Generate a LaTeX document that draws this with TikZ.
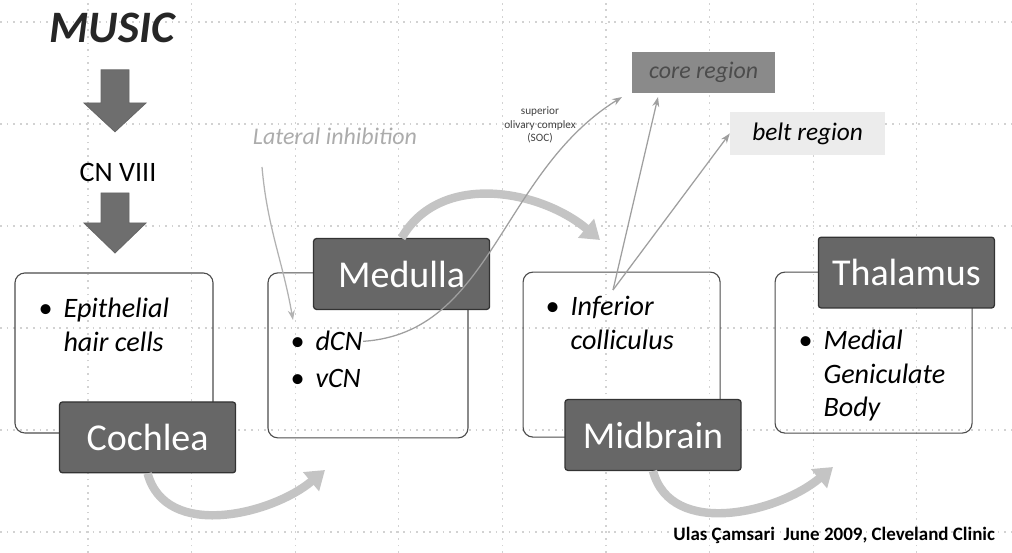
\documentclass[tikz,border=0pt]{standalone}
\usepackage{fontspec}
\setmainfont{Carlito}
\usepackage{tkz-euclide}
\usetikzlibrary{arrows.meta}
\definecolor{arrowgray}{HTML}{6E6E6E}
\definecolor{labelgray}{HTML}{676767}
\definecolor{coregray}{HTML}{8A8A8A}
\definecolor{bandgray}{HTML}{C4C4C4}

\begin{document}
\begin{tikzpicture}[
    gridline/.style={gray!35, line width=0.8pt, dash pattern=on 1.2pt off 3.5pt},
    group/.style={draw=black!70, line width=0.8pt, rounded corners=7pt},
    labelbox/.style={draw=black!80, fill=labelgray, text=white, rounded corners=2pt, line width=0.9pt,
        font=\fontsize{27}{30}\selectfont, minimum width=4.4cm, minimum height=1.77cm, inner sep=0pt},
    listtext/.style={font=\fontsize{20}{23.5}\selectfont\itshape, inner sep=0pt},
    bigarrow/.style={fill=arrowgray, draw=black!60, line width=0.6pt, line join=miter},
    band/.style={draw=bandgray, line width=6pt, -{Triangle[length=13pt,width=17pt]}},
    link/.style={draw=gray!75, line width=0.9pt, -{Stealth[length=7pt,width=5pt]}}
]
    \useasboundingbox (0,0) rectangle (25.3,13.825);
    % background grid
    \foreach \x in {2.2,4.79,...,23}
        \draw[gridline] (\x,0) -- (\x,13.825);
    \foreach \y in {0.525,3.075,...,13.4}
        \draw[gridline] (0,\y) -- (25.3,\y);

    \tkzDefPoints{8.125/2.075/CA,20.825/2.15/MA,15.0/7.825/IA,6.55/9.65/LS,7.325/5.825/LE,
        15.325/6.575/IC,15.55/11.4/CW,16.45/11.4/CS}

    % input
    \node[font=\fontsize{32}{36}\selectfont\bfseries\itshape, text=black!85] (music) at (2.8,13.13) {MUSIC};
    \node[font=\fontsize{20}{24}\selectfont] (cn) at (2.95,9.525) {CN VIII};
    \foreach \top/\head/\tip in {12.08/11.25/10.53, 9.0/8.25/7.5}
        \draw[bigarrow] (2.525,\top) -- (3.225,\top) -- (3.225,\head) -- (3.65,\head)
            -- (2.875,\tip) -- (2.1,\head) -- (2.525,\head) -- cycle;

    % stations
    \node[group, minimum width=4.95cm, minimum height=4.0cm] (cochleabox) at (2.85,5.0) {};
    \node[group, minimum width=5.0cm, minimum height=4.125cm] (medullabox) at (9.2,4.94) {};
    \node[group, minimum width=4.925cm, minimum height=4.125cm] (midbrainbox) at (15.54,4.96) {};
    \node[group, minimum width=4.925cm, minimum height=4.025cm] (thalamusbox) at (21.84,5.01) {};

    \node[labelbox] (cochlea) at (3.69,2.89) {Cochlea};
    \node[labelbox] (medulla) at (10.04,6.975) {Medulla};
    \node[labelbox] (midbrain) at (16.325,2.95) {Midbrain};
    \node[labelbox] (thalamus) at (22.66,7.01) {Thalamus};

    \node[listtext, anchor=base west] (hair) at (0.95,5.875)
        {\begin{tabular}[t]{@{}l@{\hspace{8pt}}l@{}}\textbullet & Epithelial\\ & hair cells\end{tabular}};
    \node[listtext, anchor=base west] (dcn) at (7.25,5.05) {\textbullet\hspace{8pt}dCN};
    \node[listtext, anchor=base west] (vcn) at (7.25,4.125) {\textbullet\hspace{8pt}vCN};
    \node[listtext, anchor=base west] (colliculus) at (13.625,5.925)
        {\begin{tabular}[t]{@{}l@{\hspace{8pt}}l@{}}\textbullet & Inferior\\ & colliculus\end{tabular}};
    \node[listtext, anchor=base west] (mgb) at (19.95,5.075)
        {\begin{tabular}[t]{@{}l@{\hspace{8pt}}l@{}}\textbullet & Medial\\ & Geniculate\\ & Body\end{tabular}};

    % cortex
    \node[fill=coregray, text=black!70, font=\fontsize{17}{20}\selectfont\itshape,
        minimum width=3.575cm, minimum height=1.025cm] (core) at (17.59,12.01) {core region};
    \node[fill=gray!15, font=\fontsize{18}{20}\selectfont\itshape,
        minimum width=3.875cm, minimum height=1.075cm] (belt) at (20.19,10.49) {belt region};

    \node[font=\fontsize{17}{20}\selectfont\itshape, text=gray!65] (lat) at (8.375,10.425) {Lateral inhibition};
    \node[font=\fontsize{8}{9.5}\selectfont, align=center, text=black!75] (soc) at (13.5,10.7)
        {superior\\olivary complex\\(SOC)};
    \node[font=\fontsize{13.5}{15}\selectfont\bfseries, anchor=east] (credit) at (25.0,0.45)
        {Ulas Çamsari\ \ June 2009, Cleveland Clinic};

    % pathways
    \draw[band] (cochlea.south) to[out=-75,in=-140] (CA);
    \draw[band] (midbrain.south) to[out=-75,in=-140] (MA);
    \draw[band] (medulla.north) to[out=60,in=140] (IA);
    \draw[link, draw=gray!60] (LS) to[out=-85,in=100] (LE);
    \draw[link] (dcn.east) .. controls (12.3,5.5) and (12.5,9.5) .. (CW);
    \draw[link] (IC) -- (CS);
    \draw[link] (IC) -- (belt.west);
\end{tikzpicture}
\end{document}
